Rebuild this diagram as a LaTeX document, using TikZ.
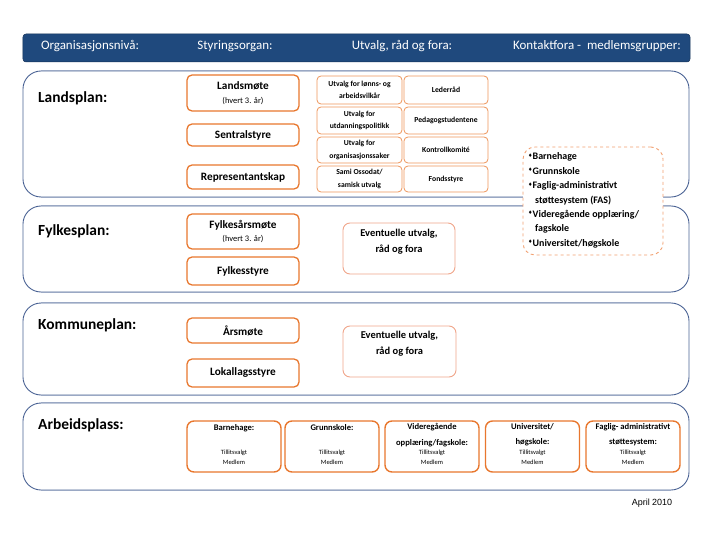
\documentclass[tikz,border=0pt]{standalone}
\usepackage{fontspec}
\setmainfont{Carlito}
\newfontfamily\arialf{Liberation Sans}
\newfontfamily\djv{DejaVu Sans}
\definecolor{hdr}{HTML}{1F497D}
\definecolor{lvl}{HTML}{4A6294}
\definecolor{lvllight}{HTML}{9AA8C4}
\definecolor{orgA}{HTML}{E8772E}
\definecolor{orgB}{HTML}{EE955A}
\definecolor{orgC}{HTML}{F0A58A}
\definecolor{orgD}{HTML}{F2A070}
\newcommand{\fs}[2]{\fontsize{#1}{#2}\selectfont}
\newcommand{\bul}{{\djv\fs{5}{5}\raisebox{2.5bp}{♦}}}
\tikzset{
  lvlbox/.style={draw=lvl, line width=0.9pt, rounded corners=18bp, inner sep=0pt},
  lvllabel/.style={anchor=west, inner sep=0pt, font=\bfseries\fs{15.5}{18}},
  hdrtext/.style={text=white, inner sep=0pt, font=\fs{13}{15}},
  sbox/.style={draw=orgA, line width=1.3pt, rounded corners=5bp, fill=white, inner sep=0pt, align=center, font=\bfseries\fs{11.3}{13}},
  cbox/.style={draw=orgB, line width=0.8pt, rounded corners=4bp, fill=white, inner sep=0pt, align=center, font=\bfseries\fs{7.7}{12.5}},
  ebox/.style={draw=orgC, line width=0.9pt, rounded corners=7bp, fill=white, inner sep=0pt},
  etext/.style={anchor=north, inner sep=0pt, align=center, font=\bfseries\fs{10.5}{16}},
  abox/.style={draw=orgA, line width=1.4pt, rounded corners=7bp, fill=white, inner sep=0pt, minimum width=94bp, minimum height=51bp},
  atitle/.style={anchor=north, inner sep=0pt, align=center, font=\bfseries\fs{8.6}{16}},
  asub/.style={inner sep=0pt, align=center, font=\fs{6.5}{10}},
}
\begin{document}
\begin{tikzpicture}[x=1bp,y=-1bp]
\useasboundingbox (0,0) rectangle (711,533);
% header
\node[fill=hdr, draw=hdr!70!black, line width=0.5pt, rounded corners=3bp, minimum width=667bp, minimum height=28bp, inner sep=0pt] (hd) at (356.5,48) {};
\node[hdrtext] (h1) at (90,46) {Organisasjonsnivå:};
\node[hdrtext] (h2) at (235,46) {Styringsorgan:};
\node[hdrtext] (h3) at (402,46) {Utvalg, råd og fora:};
\node[hdrtext] (h4) at (597,46) {Kontaktfora -\ \ medlemsgrupper:};

% level boxes
\node[lvlbox, minimum width=666bp, minimum height=126bp] (L1) at (356,134) {};
\node[lvlbox, minimum width=666bp, minimum height=86bp] (L2) at (356,249) {};
\node[lvlbox, minimum width=666bp, minimum height=92bp] (L3) at (356,349) {};
\node[lvlbox, minimum width=666bp, minimum height=87bp] (L4) at (356,446.5) {};
\foreach \n in {L1,L2,L3,L4}{
  \draw[lvllight, line width=1pt] ([xshift=18bp]\n.north west) -- ([xshift=-18bp]\n.north east);
  \draw[lvllight, line width=1pt] ([xshift=18bp]\n.south west) -- ([xshift=-18bp]\n.south east);
}
\node[lvllabel] (t1) at (38,98) {Landsplan:};
\node[lvllabel] (t2) at (38,231) {Fylkesplan:};
\node[lvllabel] (t3) at (38,325) {Kommuneplan:};
\node[lvllabel] (t4) at (38,425) {Arbeidsplass:};

% Landsplan styring
\node[sbox, minimum width=112bp, minimum height=36bp] (lm) at (243,93) {Landsmøte\\[1bp]{\normalfont\fs{8.5}{10}(hvert 3. år)}};
\node[sbox, minimum width=112bp, minimum height=22bp] (ss) at (243,135) {Sentralstyre};
\node[sbox, minimum width=112bp, minimum height=24bp] (rs) at (243,177) {Representantskap};

% committees
\node[cbox, minimum width=85bp, minimum height=28bp] (c11) at (359.5,90) {Utvalg for lønns- og\\arbeidsvilkår};
\node[cbox, minimum width=85bp, minimum height=27bp] (c12) at (359.5,120.5) {Utvalg for\\utdanningspolitikk};
\node[cbox, minimum width=85bp, minimum height=26bp] (c13) at (359.5,150) {Utvalg for\\organisasjonssaker};
\node[cbox, minimum width=85bp, minimum height=26bp] (c14) at (359.5,179) {Sami Ossodat/\\samisk utvalg};
\node[cbox, minimum width=84bp, minimum height=28bp] (c21) at (446,90) {Lederråd};
\node[cbox, minimum width=84bp, minimum height=27bp] (c22) at (446,120.5) {Pedagogstudentene};
\node[cbox, minimum width=84bp, minimum height=26bp] (c23) at (446,150) {Kontrollkomité};
\node[cbox, minimum width=84bp, minimum height=26bp] (c24) at (446,179) {Fondsstyre};

% Fylkesplan
\node[sbox, minimum width=112bp, minimum height=35bp] (fm) at (243,231.5) {Fylkesårsmøte\\[1bp]{\normalfont\fs{8.5}{10}(hvert 3. år)}};
\node[sbox, minimum width=112bp, minimum height=28bp] (fs) at (243,271) {Fylkesstyre};
\node[ebox, minimum width=112bp, minimum height=51bp] (fe) at (399,248.5) {};
\node[etext] (fet) at ([yshift=-6bp]fe.north) {Eventuelle utvalg,\\råd og fora};

% Kommuneplan
\node[sbox, minimum width=112bp, minimum height=25bp] (km) at (243,330.5) {Årsmøte};
\node[sbox, minimum width=112bp, minimum height=28bp] (kl) at (243,373) {Lokallagsstyre};
\node[ebox, minimum width=113bp, minimum height=51bp] (ke) at (399.5,351.5) {};
\node[etext] (ket) at ([yshift=-5bp]ke.north) {Eventuelle utvalg,\\råd og fora};

% contact box
\node[draw=orgD, dashed, line width=0.9pt, rounded corners=12bp, fill=white, minimum width=140bp, minimum height=108bp, inner sep=0pt] (kf) at (593,201) {};
\node[anchor=north west, inner sep=0pt, align=left, font=\bfseries\fs{10}{14.5}] (kft) at (528,152.5) {\bul Barnehage\\ \bul Grunnskole\\ \bul Faglig-administrativt\\ \hspace*{7bp}støttesystem (FAS)\\ \bul Videregående opplæring/\\ \hspace*{7bp}fagskole\\ \bul Universitet/høgskole};

% Arbeidsplass
\node[abox] (a1) at (234,446.5) {};
\node[abox] (a2) at (332,446.5) {};
\node[abox] (a3) at (432,446.5) {};
\node[abox] (a4) at (532.5,446.5) {};
\node[abox] (a5) at (633,446.5) {};
\node[atitle] (a1t) at ([yshift=-3.5bp]a1.north) {Barnehage:};
\node[atitle] (a2t) at ([yshift=-3.5bp]a2.north) {Grunnskole:};
\node[atitle] (a3t) at ([yshift=-2.5bp]a3.north) {Videregående\\opplæring/fagskole:};
\node[atitle] (a4t) at ([yshift=-2.5bp]a4.north) {Universitet/\\høgskole:};
\node[atitle] (a5t) at ([yshift=-2.5bp]a5.north) {Faglig- administrativt\\støttesystem:};
\foreach \n in {a1,a2,a3,a4,a5}{
  \node[asub] (\n s) at ([yshift=-11bp]\n.center) {Tillitsvalgt\\Medlem};
}
\node[inner sep=0pt, font=\arialf\fs{9}{10}] (date) at (652,503) {April 2010};
\end{tikzpicture}
\end{document}
